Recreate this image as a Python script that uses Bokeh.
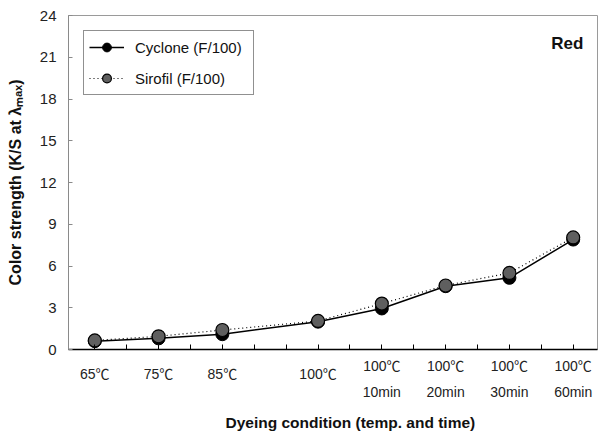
from bokeh.plotting import figure
from bokeh.models import Range1d, FixedTicker, Label, Legend, LegendItem, LinearAxis, Title
from bokeh.embed import file_html
from bokeh.resources import INLINE

# ---- data ----
x_pos = [65, 75, 85, 100, 110, 120, 130, 140]
label_line1 = ["65℃", "75℃", "85℃", "100℃", "100℃", "100℃", "100℃", "100℃"]
label_line2 = ["", "", "", "", "10min", "20min", "30min", "60min"]
cyclone = [0.6, 0.8, 1.1, 2.0, 2.95, 4.55, 5.15, 7.9]
sirofil = [0.65, 0.95, 1.4, 2.05, 3.3, 4.6, 5.5, 8.05]
y_ticks = [0, 3, 6, 9, 12, 15, 18, 21, 24]
x_ticks = [65, 70, 75, 80, 85, 90, 95, 100, 105, 110, 115, 120, 125, 130, 135, 140]

FONT = "Liberation Sans"
FONT_C = "Liberation Sans, Noto Sans CJK KR"


def overrides(ticks, mapping):
    d = {}
    for t in ticks:
        s = mapping.get(t, "")
        d[t] = s
        d[str(t)] = s
    return d


p = figure(width=598, height=439, output_backend="svg", toolbar_location=None,
           x_range=Range1d(60.88, 143.81), y_range=Range1d(0, 24),
           min_border_left=68, min_border_right=1, min_border_top=15, min_border_bottom=90)

p.xgrid.visible = False
p.ygrid.visible = False
p.outline_line_color = "#9a9a9a"
p.outline_line_width = 1

double1 = {x: a for x, a, b in zip(x_pos, label_line1, label_line2) if b}
single = {x: a for x, a, b in zip(x_pos, label_line1, label_line2) if not b}
double2 = {x: b for x, a, b in zip(x_pos, label_line1, label_line2) if b}

# x axis A: tick marks + first line of two-line labels
xa = p.xaxis[0]
xa.ticker = FixedTicker(ticks=x_ticks)
xa.major_label_overrides = overrides(x_ticks, double1)
xa.major_tick_in = 5
xa.major_tick_out = 0
xa.minor_tick_in = 0
xa.minor_tick_out = 0
xa.axis_line_color = "black"
xa.axis_line_width = 1.5
xa.major_tick_line_color = "black"
xa.major_label_standoff = 8

# axis B: single-line labels
xb = LinearAxis(ticker=FixedTicker(ticks=x_pos), major_label_overrides=overrides(x_pos, single),
                axis_line_color=None, major_tick_line_color=None, minor_tick_line_color=None,
                major_tick_in=0, major_tick_out=0, major_label_standoff=-11)
# axis C: second lines
xc = LinearAxis(ticker=FixedTicker(ticks=x_pos), major_label_overrides=overrides(x_pos, double2),
                axis_line_color=None, major_tick_line_color=None, minor_tick_line_color=None,
                major_tick_in=0, major_tick_out=0, major_label_standoff=-1)
for ax in (xa, xb, xc):
    ax.major_label_text_font = FONT_C
    ax.major_label_text_font_size = "14px"
    ax.major_label_text_color = "#222222"
xc.major_label_text_font = FONT
p.add_layout(xb, "below")
p.add_layout(xc, "below")

# y axis
ya = p.yaxis[0]
ya.ticker = FixedTicker(ticks=y_ticks)
ya.major_tick_in = 4
ya.major_tick_out = 0
ya.minor_tick_in = 0
ya.minor_tick_out = 0
ya.axis_line_color = "#8a8a8a"
ya.major_tick_line_color = "#8a8a8a"
ya.major_label_text_font = FONT
ya.major_label_text_font_size = "15px"
ya.major_label_text_color = "#222222"
ya.major_label_standoff = 12
ya.axis_label = "Color strength (K/S at λₘₐₓ)"
ya.axis_label_text_font = FONT
ya.axis_label_text_font_style = "bold"
ya.axis_label_text_font_size = "16px"
ya.axis_label_text_color = "#111111"
ya.axis_label_standoff = 13

# series
l1 = p.line(x_pos, cyclone, line_color="black", line_width=1.5)
l2 = p.line(x_pos, sirofil, line_color="black", line_width=1.2, line_dash="1 3")
s1 = p.scatter(x_pos, cyclone, marker="circle", size=13, fill_color="black", line_color="black")
s2 = p.scatter(x_pos, sirofil, marker="circle", size=13, fill_color="#5f5f5f", line_color="black", line_width=1.2)

legend = Legend(items=[LegendItem(label="Cyclone (F/100)", renderers=[l1, s1]),
                       LegendItem(label="Sirofil (F/100)", renderers=[l2, s2])],
                location="top_left", margin=15,
                border_line_color="#222222", border_line_width=1,
                background_fill_color="white", background_fill_alpha=1,
                label_text_font=FONT, label_text_font_size="15px", label_text_color="#111111",
                glyph_width=35, glyph_height=22, label_height=22, spacing=9, padding=5,
                label_standoff=11, label_width=113)
p.add_layout(legend, "center")

# "Red"
p.add_layout(Label(x=141.6, y=22.0, text="Red", text_align="right", text_baseline="middle",
                   text_font=FONT, text_font_style="bold", text_font_size="17px", text_color="#111111"))

# x axis title
p.add_layout(Title(text="Dyeing condition (temp. and time)", align="left", offset=157, standoff=18,
                   text_font=FONT, text_font_style="bold", text_font_size="15.5px",
                   text_color="#111111"), "below")

open("out.html", "w").write(file_html(p, INLINE))
